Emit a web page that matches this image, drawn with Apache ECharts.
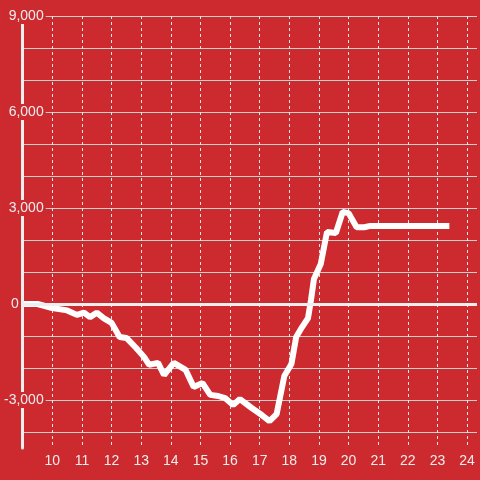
<!DOCTYPE html>
<html>
<head>
<meta charset="utf-8">
<script src="https://cdn.jsdelivr.net/npm/echarts@6/dist/echarts.min.js"></script>
<style>
html,body{margin:0;padding:0;background:#cc2a2e;}
#c{width:480px;height:480px;}
</style>
</head>
<body>
<div id="c"></div>
<script>
// Data
var xValues = [9.0, 9.5, 10.0, 10.5, 10.83, 11.07, 11.27, 11.5, 11.73, 12.0, 12.27, 12.5, 12.83, 13.1, 13.27, 13.57, 13.77, 14.1, 14.5, 14.77, 15.07, 15.33, 15.6, 15.83, 16.1, 16.33, 16.73, 17.07, 17.33, 17.57, 17.83, 18.07, 18.23, 18.43, 18.63, 18.73, 18.83, 19.06, 19.27, 19.57, 19.8, 20.0, 20.27, 20.53, 20.73, 23.4];
var yValues = [0, 0, -125, -200, -340, -270, -410, -270, -440, -590, -1030, -1060, -1375, -1660, -1900, -1840, -2220, -1840, -2060, -2590, -2470, -2840, -2875, -2940, -3160, -2970, -3250, -3470, -3660, -3440, -2250, -1875, -1030, -720, -440, 125, 780, 1250, 2250, 2220, 2875, 2840, 2400, 2400, 2440, 2440];
var yTickLabels = [-3000, 0, 3000, 6000, 9000];
var xTickLabels = [10, 11, 12, 13, 14, 15, 16, 17, 18, 19, 20, 21, 22, 23, 24];

var seriesData = xValues.map(function (x, i) { return [x, yValues[i]]; });

function fmtNum(v) {
  var s = Math.abs(v).toString().replace(/\B(?=(\d{3})+(?!\d))/g, ',');
  return (v < 0 ? '-' : '') + s;
}

var chart = echarts.init(document.getElementById('c'), null, {renderer: 'canvas'});
var labelColor = '#eeeeee';
var bg = '#cc2a2e';
chart.setOption({
  backgroundColor: bg,
  animation: false,
  grid: {left: 20, right: 0, top: 16, bottom: 32, containLabel: false},
  xAxis: {
    type: 'value', min: 9, max: 24.3333, interval: 1,
    axisLine: {show: false}, axisTick: {show: false},
    axisLabel: {
      color: labelColor, fontSize: 14, fontFamily: 'Liberation Sans, Arial, sans-serif', margin: 6,
      showMaxLabel: true,
      formatter: function (v) { return xTickLabels.indexOf(Math.round(v * 1000) / 1000) >= 0 ? String(v) : ''; }
    },
    splitLine: {show: true, showMaxLine: false, lineStyle: {color: '#e6e6e6', width: 1, type: [3, 3]}}
  },
  yAxis: [{
    type: 'value', min: -4500, max: 9000, interval: 500, z: 0,
    axisLine: {show: false}, axisTick: {show: false}, axisLabel: {show: false},
    splitLine: {show: true, showMinLine: true, showMaxLine: true, lineStyle: {color: ['rgba(0,0,0,0)', '#cfcfcf'], width: 1}}
  }, {
    type: 'value', min: -4500, max: 9000, interval: 500, z: 5, position: 'left',
    axisLine: {show: true, lineStyle: {color: '#eeeeee', width: 3}},
    axisTick: {show: false},
    splitLine: {show: false},
    axisLabel: {
      show: true, align: 'right', margin: -23,
      showMinLabel: true, showMaxLabel: true,
      formatter: function (v) {
        if (yTickLabels.indexOf(v) < 0) return '';
        if (v === 0) return '{z|0}';
        return '{b|' + fmtNum(v) + '}';
      },
      rich: {
        b: {color: labelColor, fontSize: 14, fontFamily: 'Liberation Sans, Arial, sans-serif', backgroundColor: bg, padding: [1, 2, 1, 1], lineHeight: 16},
        z: {color: labelColor, fontSize: 14, fontFamily: 'Liberation Sans, Arial, sans-serif', padding: [0, 27, 0, 0], lineHeight: 16}
      }
    }
  }],
  series: [{
    type: 'line', data: seriesData, yAxisIndex: 0,
    showSymbol: false, symbol: 'none',
    lineStyle: {color: '#ffffff', width: 6},
    z: 3,
    markLine: {
      silent: true, symbol: 'none', label: {show: false},
      lineStyle: {color: '#eeeeee', width: 3, type: 'solid'},
      data: [{yAxis: 0}]
    }
  }]
});
</script>
</body>
</html>
